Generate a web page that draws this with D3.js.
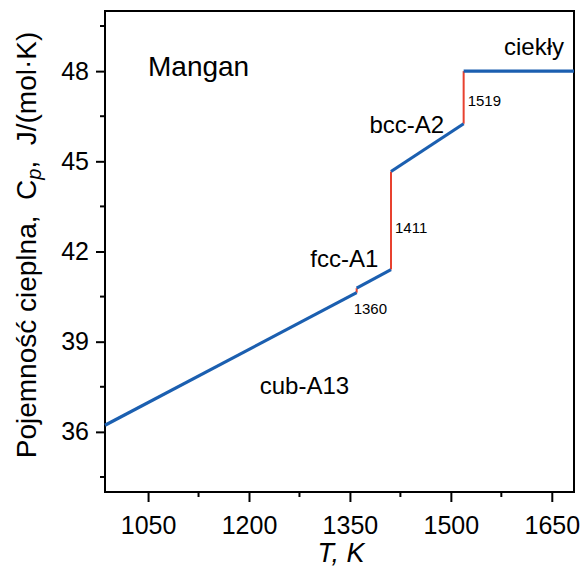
<!DOCTYPE html>
<html>
<head>
<meta charset="utf-8">
<script src="https://cdn.jsdelivr.net/npm/d3@7"></script>
<style>
  html, body { margin: 0; padding: 0; background: #fff; }
  svg { display: block; }
  text { font-family: "Liberation Sans", Arial, sans-serif; fill: #000; }
</style>
</head>
<body>
<svg id="chart" width="582" height="569"></svg>
<script>
// Heat capacity of manganese by phase, J/(mol·K), vs temperature in K
const cubA13 = [[986, 36.22], [1360, 40.63]];
const fccA1  = [[1360, 40.78], [1411, 41.40]];
const bccA2  = [[1411, 44.66], [1519, 46.25]];
const ciekly = [[1519, 48.00], [1683, 48.00]];
const phaseSegments = [cubA13, fccA1, bccA2, ciekly];

// Phase transition temperatures with Cp below and above the jump
const transitions = [
  { T: 1360, from: 40.63, to: 40.78 },
  { T: 1411, from: 41.40, to: 44.66 },
  { T: 1519, from: 46.25, to: 48.00 }
];

// Phase names placed in data coordinates (T, Cp)
const phaseLabels = [
  { text: "cub-A13", T: 1216, cp: 37.26 },
  { text: "fcc-A1",  T: 1291, cp: 41.49 },
  { text: "bcc-A2",  T: 1379, cp: 45.93 },
  { text: "ciekły",  T: 1579, cp: 48.54 }
];

const xTicks = [1050, 1200, 1350, 1500, 1650];
const xMinor = [1125, 1275, 1425, 1575];
const yTicks = [36, 39, 42, 45, 48];
const yMinor = [34.5, 37.5, 40.5, 43.5, 46.5, 49.5];

const svg = d3.select("#chart");
const m = { left: 105, top: 11, right: 574, bottom: 492 };

const x = d3.scaleLinear().domain([986, 1683]).range([m.left, m.right]);
const y = d3.scaleLinear().domain([34, 50]).range([m.bottom, m.top]);

// Frame
svg.append("rect")
  .attr("x", m.left).attr("y", m.top)
  .attr("width", m.right - m.left).attr("height", m.bottom - m.top)
  .attr("fill", "none").attr("stroke", "#000").attr("stroke-width", 2);

// Bottom axis
const gx = svg.append("g").attr("transform", `translate(0,${m.bottom})`);
gx.call(d3.axisBottom(x).tickValues(xTicks).tickFormat(d3.format("d"))
  .tickSize(10).tickPadding(14));
gx.selectAll(".tick text").attr("font-size", 25).attr("font-family", "Liberation Sans, Arial, sans-serif");
gx.append("g").selectAll("line").data(xMinor).join("line")
  .attr("x1", d => x(d)).attr("x2", d => x(d))
  .attr("y1", 0).attr("y2", 5).attr("stroke", "#000").attr("stroke-width", 2);
gx.select(".domain").remove();
gx.selectAll(".tick line").attr("stroke-width", 2);

// Left axis
const gy = svg.append("g").attr("transform", `translate(${m.left},0)`);
gy.call(d3.axisLeft(y).tickValues(yTicks).tickFormat(d3.format("d"))
  .tickSize(9).tickPadding(7));
gy.selectAll(".tick text").attr("font-size", 25).attr("font-family", "Liberation Sans, Arial, sans-serif");
gy.append("g").selectAll("line").data(yMinor).join("line")
  .attr("y1", d => y(d)).attr("y2", d => y(d))
  .attr("x1", 0).attr("x2", -5).attr("stroke", "#000").attr("stroke-width", 2);
gy.select(".domain").remove();
gy.selectAll(".tick line").attr("stroke-width", 2);

// Transition jumps (red)
svg.append("g").selectAll("line").data(transitions).join("line")
  .attr("x1", d => x(d.T)).attr("x2", d => x(d.T))
  .attr("y1", d => y(d.from)).attr("y2", d => y(d.to))
  .attr("stroke", "#e8412f").attr("stroke-width", 2);

// Phase Cp lines (blue)
const line = d3.line().x(d => x(d[0])).y(d => y(d[1]));
svg.append("g").selectAll("path").data(phaseSegments).join("path")
  .attr("d", line).attr("fill", "none")
  .attr("stroke", "#1b5fb0").attr("stroke-width", 3.2);

// Transition temperature labels: the small jump gets its label below the line,
// the large ones beside the middle of the jump
svg.append("g").selectAll("text").data(transitions).join("text")
  .attr("x", d => x(d.T) + (d.to - d.from < 0.5 ? -3 : 4))
  .attr("y", d => d.to - d.from < 0.5 ? y(d.from) + 21
                                       : y((d.from + d.to) / 2) + (d.to - d.from > 2 ? 12 : 9))
  .attr("font-size", 15)
  .text(d => d.T);

// Phase names
svg.append("g").selectAll("text").data(phaseLabels).join("text")
  .attr("x", d => x(d.T)).attr("y", d => y(d.cp))
  .attr("font-size", 24)
  .text(d => d.text);

// Element name
svg.append("text").attr("x", 148).attr("y", 76)
  .attr("font-size", 28).text("Mangan");

// Axis titles
svg.append("text")
  .attr("x", 341).attr("y", 562)
  .attr("text-anchor", "middle").attr("font-size", 27)
  .attr("font-style", "italic").text("T, K");

const yl = svg.append("text")
  .attr("transform", "translate(36,245) rotate(-90)")
  .attr("text-anchor", "middle").attr("font-size", 28)
  .attr("xml:space", "preserve");
yl.append("tspan").text("Pojemność cieplna,  C");
yl.append("tspan").attr("font-style", "italic").attr("font-size", 20).attr("dy", 5).text("p");
yl.append("tspan").attr("dy", -5).text(",  J/(mol·K)");
</script>
</body>
</html>
